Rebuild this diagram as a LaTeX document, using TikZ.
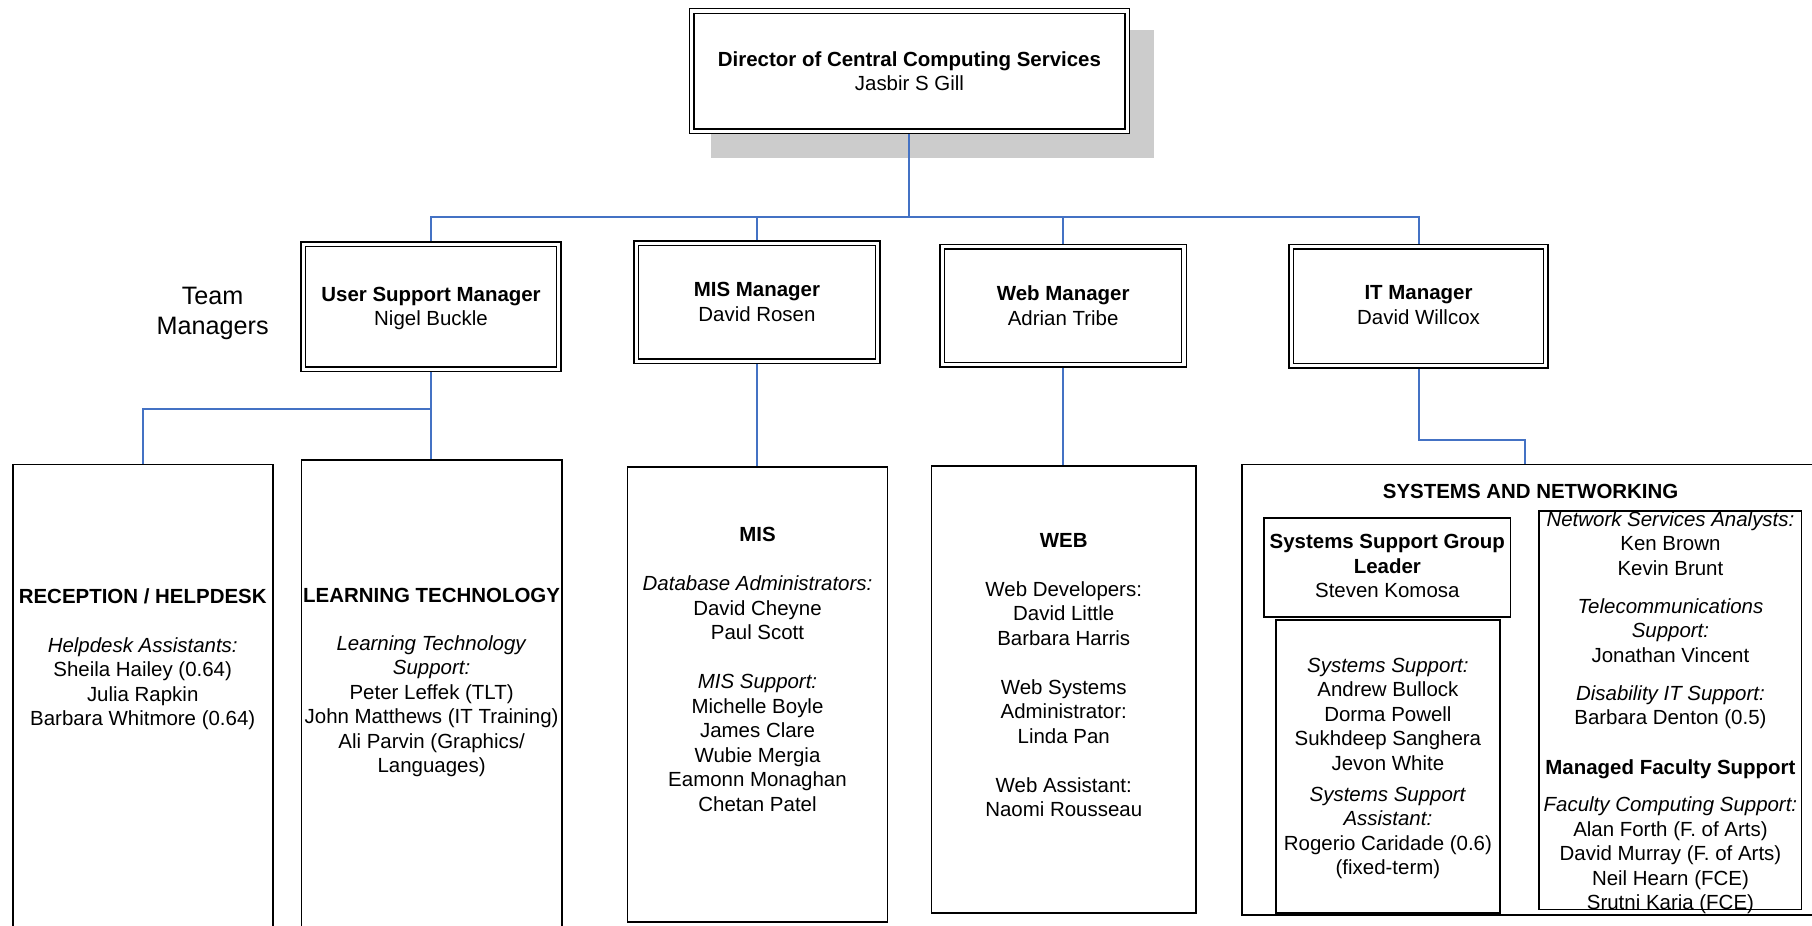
\documentclass[tikz,border=0pt]{standalone}
\usepackage{fontspec}
\setmainfont{Liberation Sans}
\usetikzlibrary{fit,backgrounds}
\definecolor{conn}{RGB}{68,114,196}
\definecolor{shade}{RGB}{204,204,204}
\begin{document}
\begin{tikzpicture}[x=0.5pt,y=-0.5pt,
  txt/.style={align=center, inner sep=0pt, anchor=north, font=\fontsize{8.85}{10.6}\selectfont},
  dbox/.style={draw=black, line width=0.6pt, double=white, double distance=1.4pt, inner sep=0pt, fill=white},
  sbox/.style={draw=black, line width=0.75pt, inner sep=0pt, fill=white},
  link/.style={draw=conn, line width=0.85pt},
]
\useasboundingbox (0,0) rectangle (1568,801);

% director
\node[dbox, fit={(598.5,9.5) (975.5,113.5)}] (dir) {};
\node[txt] (dirt) at (787,44) {\textbf{Director of Central Computing Services}\\Jasbir S Gill};

% team managers label
\node[align=center, inner sep=0pt, anchor=north, font=\fontsize{10.9}{13}\selectfont] (team) at (184,248) {Team\\Managers};

% managers
\node[dbox, fit={(262.5,211.5) (483.5,319.5)}] (us) {};
\node[txt] (ust) at (373,248) {\textbf{User Support Manager}\\Nigel Buckle};
\node[dbox, fit={(550.5,210.5) (759.5,312.5)}] (mis) {};
\node[txt] (mist) at (655,244) {\textbf{MIS Manager}\\David Rosen};
\node[dbox, fit={(815.5,213.5) (1024.5,315.5)}] (web) {};
\node[txt] (webt) at (920,247) {\textbf{Web Manager}\\Adrian Tribe};
\node[dbox, fit={(1117.5,213.5) (1337.5,316.5)}] (it) {};
\node[txt] (itt) at (1227.5,247) {\textbf{IT Manager}\\David Willcox};

% team boxes
\node[sbox, fit={(11,402) (236,840)}] (rec) {};
\node[txt] (rect) at (123.5,509) {\textbf{RECEPTION / HELPDESK}\\[10.6pt]\textit{Helpdesk Assistants:}\\Sheila Hailey (0.64)\\Julia Rapkin\\Barbara Whitmore (0.64)};

\node[sbox, fit={(261,398) (486,840)}] (lt) {};
\node[txt] (ltt) at (373.5,509) {\textbf{LEARNING TECHNOLOGY}\\[9.8pt]\textit{Learning Technology}\\\textit{Support:}\\Peter Leffek (TLT)\\John Matthews (IT Training)\\Ali Parvin (Graphics/\\Languages)};

\node[sbox, fit={(543,404) (768,798)}] (misb) {};
\node[txt] (misbt) at (655.5,456) {\textbf{MIS}\\[10.6pt]\textit{Database Administrators:}\\David Cheyne\\Paul Scott\\[10.6pt]\textit{MIS Support:}\\Michelle Boyle\\James Clare\\Wubie Mergia\\Eamonn Monaghan\\Chetan Patel};

\node[sbox, fit={(806,403) (1035,790)}] (webb) {};
\node[txt] (webbt) at (920.5,461) {\textbf{WEB}\\[10.6pt]Web Developers:\\David Little\\Barbara Harris\\[10.6pt]Web Systems\\Administrator:\\Linda Pan\\[10.6pt]Web Assistant:\\Naomi Rousseau};

\node[sbox, fit={(1075,402) (1620,792)}] (snb) {};
\node[txt] (snbt) at (1324.5,419) {\textbf{SYSTEMS AND NETWORKING}};

\node[sbox, fit={(1094,448) (1307,534)}] (lead) {};
\node[txt] (leadt) at (1200.5,462) {\textbf{Systems Support Group}\\\textbf{Leader}\\Steven Komosa};

\node[sbox, fit={(1104,536.5) (1298,790)}] (ssb) {};
\node[txt] (ssbt) at (1201,569) {\textit{Systems Support:}\\Andrew Bullock\\Dorma Powell\\Sukhdeep Sanghera\\Jevon White\\[2.9pt]\textit{Systems Support}\\\textit{Assistant:}\\Rogerio Caridade (0.6)\\(fixed-term)};

\node[sbox, fit={(1332,442) (1559,787)}] (net) {};
\node[txt] (nett) at (1445.5,442) {\textit{Network Services Analysts:}\\Ken Brown\\Kevin Brunt\\[5.9pt]\textit{Telecommunications}\\\textit{Support:}\\Jonathan Vincent\\[5.9pt]\textit{Disability IT Support:}\\Barbara Denton (0.5)\\[10.9pt]\textbf{Managed Faculty Support}\\[5.4pt]\textit{Faculty Computing Support:}\\Alan Forth (F. of Arts)\\David Murray (F. of Arts)\\Neil Hearn (FCE)\\Srutni Karia (FCE)};

% connectors and shadow
\begin{scope}[on background layer]
\node[fill=shade, inner sep=0pt, fit={(615,26) (999,137)}] (dirshadow) {};
\coordinate (bar) at (787,188);
\coordinate (usj) at (373,354);
\coordinate (itj) at (1227.5,381);
\coordinate (snin) at (1320,402);
\draw[link] (dir.south) -- (bar);
\draw[link] (bar) -| (us.north);
\draw[link] (bar) -| (mis.north);
\draw[link] (bar) -| (web.north);
\draw[link] (bar) -| (it.north);
\draw[link] (us.south) -- (us.south |- lt.north);
\draw[link] (usj) -| (rec.north);
\draw[link] (mis.south) -- (mis.south |- misb.north);
\draw[link] (web.south) -- (web.south |- webb.north);
\draw[link] (it.south) -- (itj) -| (snin);
\end{scope}
\end{tikzpicture}
\end{document}
